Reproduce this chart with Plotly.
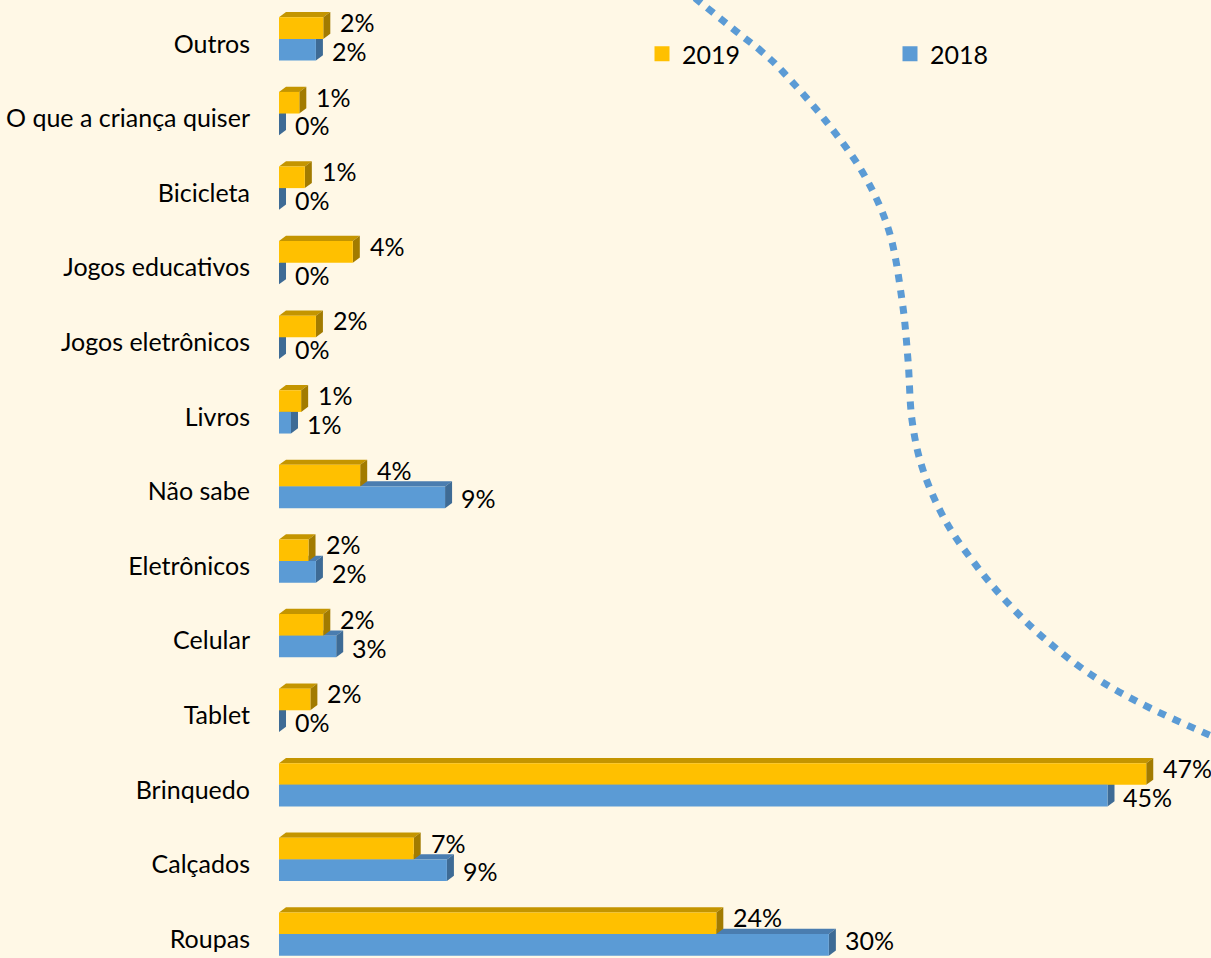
import plotly.graph_objects as go

# ---------------- data (top to bottom as shown) ----------------
categories = ["Outros", "O que a criança quiser", "Bicicleta", "Jogos educativos",
              "Jogos eletrônicos", "Livros", "Não sabe", "Eletrônicos", "Celular",
              "Tablet", "Brinquedo", "Calçados", "Roupas"]
values_2019 = [2.4, 1.1, 1.4, 4.0, 2.0, 1.2, 4.4, 1.6, 2.4, 1.7, 47.0, 7.3, 23.7]
values_2018 = [2.0, 0.0, 0.0, 0.0, 0.0, 0.65, 9.0, 2.0, 3.1, 0.0, 44.9, 9.1, 29.8]
series_names = ["2019", "2018"]

# ---------------- style ----------------
BG = "#FFF8E6"
YELLOW, YELLOW_TOP, YELLOW_SIDE = "#FFC000", "#C49500", "#A27B00"
BLUE, BLUE_TOP, BLUE_SIDE = "#5B9BD5", "#4A7DB0", "#3E6B95"
FONT = "Lato"
FS = 25

W, H = 1211, 958
ML = 279
X_MAX = 50.51
Y_RANGE = [-0.254, 12.589]
BAR_W = 0.29
Y_OFF = 0.067
DX = 0.38
DY = 0.07

n = len(categories)
pos = [n - 1 - i for i in range(n)]

fig = go.Figure()

fig.add_trace(go.Bar(
    y=pos, x=values_2019, orientation="h", name=series_names[0], showlegend=False,
    legendgroup="a", marker=dict(color=YELLOW, line=dict(width=0)),
    offset=Y_OFF, width=BAR_W, hoverinfo="x+name"))
fig.add_trace(go.Bar(
    y=pos, x=values_2018, orientation="h", name=series_names[1], showlegend=False,
    legendgroup="b", marker=dict(color=BLUE, line=dict(width=0)),
    offset=Y_OFF - BAR_W, width=BAR_W, hoverinfo="x+name"))

# legend entries with larger square keys
for name, col, grp in [(series_names[0], YELLOW, "a"), (series_names[1], BLUE, "b")]:
    fig.add_trace(go.Scatter(x=[None], y=[None], mode="markers", name=name,
                             legendgroup=grp,
                             marker=dict(symbol="square", size=15, color=col,
                                         line=dict(width=0))))

shapes = []


def faces(vals, lo_off, top_col, side_col):
    out = []
    for p, v in zip(pos, vals):
        b = p + lo_off
        t = b + BAR_W
        if v > 0:
            out.append(dict(type="path", xref="x", yref="y", layer="below",
                            path=f"M 0,{t} L {v},{t} L {v + DX},{t + DY} L {DX},{t + DY} Z",
                            fillcolor=top_col, line=dict(width=0)))
        out.append(dict(type="path", xref="x", yref="y", layer="below",
                        path=f"M {v},{b} L {v},{t} L {v + DX},{t + DY} L {v + DX},{b + DY} Z",
                        fillcolor=side_col, line=dict(width=0)))
    return out


shapes += faces(values_2018, Y_OFF - BAR_W, BLUE_TOP, BLUE_SIDE)
shapes += faces(values_2019, Y_OFF, YELLOW_TOP, YELLOW_SIDE)

# decorative dotted curve (pixel guide points -> paper coords)
curve_px = [(695, -2), (737, 32), (761, 51), (784, 73), (825, 120), (863, 173),
            (889, 231), (902, 300), (908, 360), (912, 420), (923, 470), (945, 520),
            (972, 560), (1005, 600), (1046, 640), (1096, 678), (1150, 708), (1225, 742)]
pw = W - ML


def to_paper(pt):
    return ((pt[0] - ML) / pw, 1 - pt[1] / H)


pp = [to_paper(p) for p in curve_px]
path = f"M {pp[0][0]},{pp[0][1]}"
for i in range(len(pp) - 1):
    p0 = pp[i - 1] if i > 0 else pp[i]
    p1 = pp[i]
    p2 = pp[i + 1]
    p3 = pp[i + 2] if i + 2 < len(pp) else pp[i + 1]
    c1 = (p1[0] + (p2[0] - p0[0]) / 6, p1[1] + (p2[1] - p0[1]) / 6)
    c2 = (p2[0] - (p3[0] - p1[0]) / 6, p2[1] - (p3[1] - p1[1]) / 6)
    path += f" C {c1[0]},{c1[1]} {c2[0]},{c2[1]} {p2[0]},{p2[1]}"
shapes.append(dict(type="path", xref="paper", yref="paper", layer="below", path=path,
                   line=dict(color=BLUE, width=7, dash="8px,8px")))

annotations = []
for p, v in zip(pos, values_2019):
    annotations.append(dict(x=v, y=p + Y_OFF + BAR_W / 2, xref="x", yref="y",
                            text=f"{int(v + 0.5)}%", showarrow=False, xanchor="left",
                            yanchor="middle", xshift=15, yshift=6,
                            font=dict(family=FONT, size=FS, color="#000000")))
for p, v in zip(pos, values_2018):
    annotations.append(dict(x=v, y=p + Y_OFF - BAR_W / 2, xref="x", yref="y",
                            text=f"{int(v + 0.5)}%", showarrow=False, xanchor="left",
                            yanchor="middle", xshift=15, yshift=(5 if p == 0 else -1),
                            borderpad=0,
                            font=dict(family=FONT, size=FS, color="#000000")))

fig.update_layout(
    width=W, height=H, autosize=False,
    margin=dict(l=ML, r=0, t=0, b=0),
    paper_bgcolor=BG, plot_bgcolor=BG,
    barmode="overlay",
    font=dict(family=FONT, size=FS, color="#000000"),
    xaxis=dict(range=[0, X_MAX], visible=False, fixedrange=True),
    yaxis=dict(range=Y_RANGE, tickmode="array", tickvals=pos, ticktext=categories,
               showgrid=False, zeroline=False, showline=False, ticks="",
               ticklabelstandoff=28, tickfont=dict(family=FONT, size=FS, color="#000000"),
               fixedrange=True),
    legend=dict(orientation="h", x=(642 - ML) / pw, xanchor="left",
                y=1 - 54 / H, yanchor="middle", bgcolor="rgba(0,0,0,0)",
                entrywidth=203, entrywidthmode="pixels", traceorder="normal",
                itemsizing="trace",
                font=dict(family=FONT, size=FS, color="#000000")),
    shapes=shapes,
    annotations=annotations,
    showlegend=True,
)

fig.write_html(
    "out.html",
    config={"displayModeBar": False},
    post_script="document.body.style.margin='0px';document.body.style.background='" + BG + "';",
)
